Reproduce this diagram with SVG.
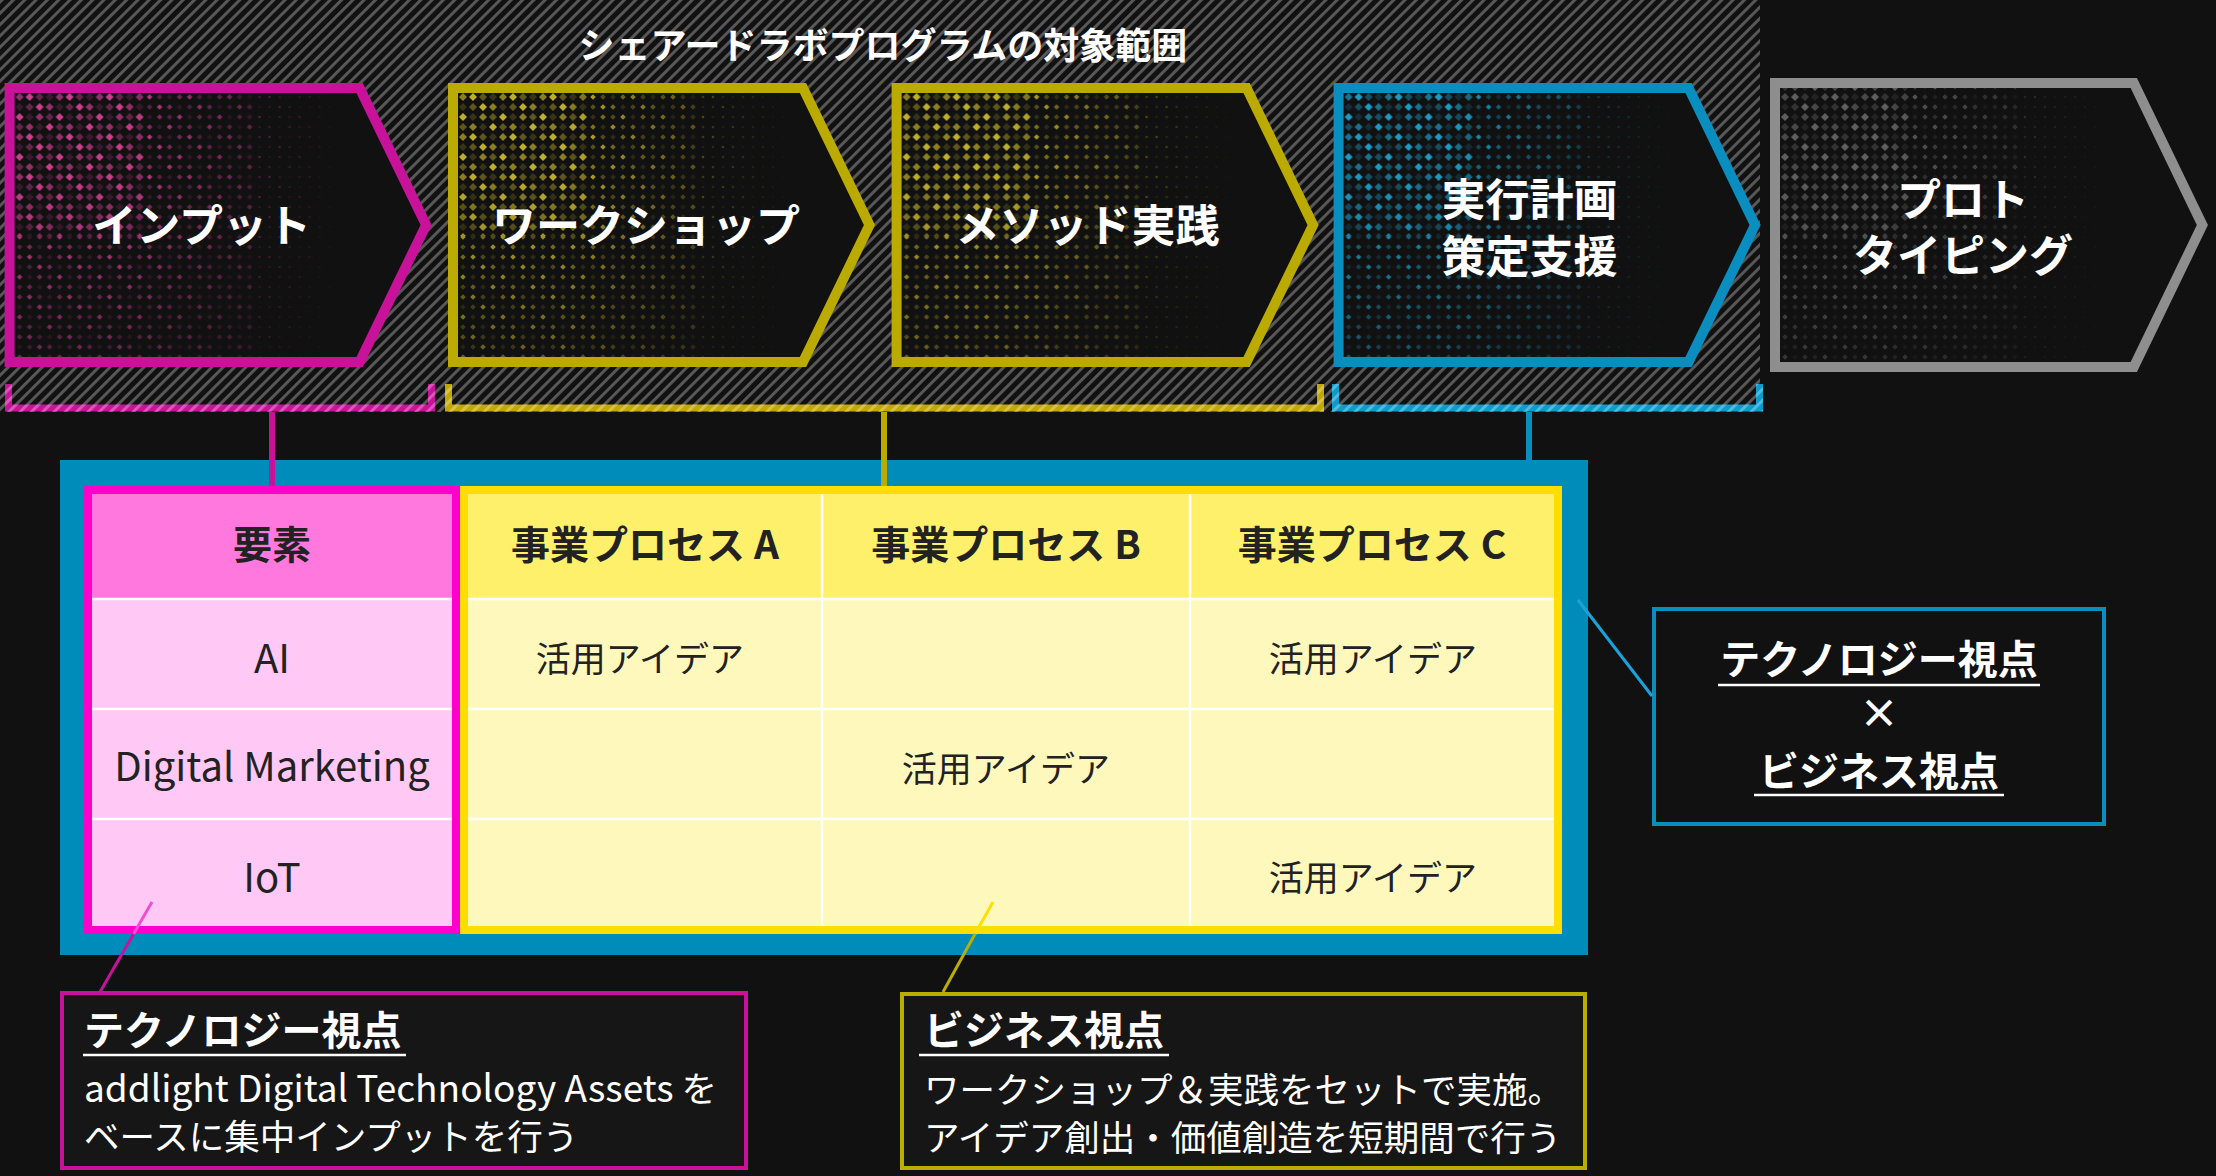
<svg xmlns="http://www.w3.org/2000/svg" width="2216" height="1176" viewBox="0 0 2216 1176">
<style>
text{font-family:"Noto Sans CJK JP","Noto Sans",sans-serif}
.title{fill:#fff;font-size:36px;font-weight:700;text-anchor:middle}
.ct{fill:#fff;font-size:44px;font-weight:700;text-anchor:middle}
.chev{fill:#111;stroke-width:10;stroke-linejoin:miter}
.hd{font-size:39px;font-weight:700;fill:#222;text-anchor:middle}
.cell{font-size:35px;fill:#222;text-anchor:middle}
.lat{font-size:40px;fill:#222;text-anchor:middle}
.clh{font-size:40px;font-weight:700;fill:#fff}
.clb{font-size:35.5px;fill:#fff}
.ul{stroke:#fff;stroke-width:2.5;fill:none}
.grid{stroke:#fff;stroke-width:2.5;fill:none}
.br{fill:none;stroke-width:7}
.brh{fill:none;stroke-width:7;stroke:url(#hatch)}
</style>
<defs>
<pattern id="hatch" width="8" height="8" patternUnits="userSpaceOnUse" patternTransform="rotate(45)">
<rect width="2.9" height="8" fill="#fff" fill-opacity="0.3"/>
</pattern>
<pattern id="pL" width="40" height="40" y="2" patternUnits="userSpaceOnUse">
<path fill="#fff" d="M5 1l4 4-4 4-4-4zM25 11l4 4-4 4-4-4zM35 21l4 4-4 4-4-4zM15 31l4 4-4 4-4-4z"/>
<path fill="#fff" fill-opacity="0.7" d="M25 1l4 4-4 4-4-4zM15 11l4 4-4 4-4-4zM5 21l4 4-4 4-4-4zM35 31l4 4-4 4-4-4z"/>
<path fill="#fff" fill-opacity="0.45" d="M15 1l4 4-4 4-4-4zM35 11l4 4-4 4-4-4zM25 21l4 4-4 4-4-4zM5 31l4 4-4 4-4-4z"/>
<path fill="#fff" fill-opacity="0.22" d="M35 1l4 4-4 4-4-4zM5 11l4 4-4 4-4-4zM15 21l4 4-4 4-4-4zM25 31l4 4-4 4-4-4z"/>
</pattern>
<pattern id="pM" width="40" height="40" y="2" patternUnits="userSpaceOnUse">
<path fill="#fff" d="M5 2.2l2.8 2.8-2.8 2.8-2.8-2.8zM25 12.2l2.8 2.8-2.8 2.8-2.8-2.8zM35 22.2l2.8 2.8-2.8 2.8-2.8-2.8zM15 32.2l2.8 2.8-2.8 2.8-2.8-2.8z"/>
<path fill="#fff" fill-opacity="0.7" d="M25 2.2l2.8 2.8-2.8 2.8-2.8-2.8zM15 12.2l2.8 2.8-2.8 2.8-2.8-2.8zM5 22.2l2.8 2.8-2.8 2.8-2.8-2.8zM35 32.2l2.8 2.8-2.8 2.8-2.8-2.8z"/>
<path fill="#fff" fill-opacity="0.45" d="M15 2.2l2.8 2.8-2.8 2.8-2.8-2.8zM35 12.2l2.8 2.8-2.8 2.8-2.8-2.8zM25 22.2l2.8 2.8-2.8 2.8-2.8-2.8zM5 32.2l2.8 2.8-2.8 2.8-2.8-2.8z"/>
<path fill="#fff" fill-opacity="0.22" d="M35 2.2l2.8 2.8-2.8 2.8-2.8-2.8zM5 12.2l2.8 2.8-2.8 2.8-2.8-2.8zM15 22.2l2.8 2.8-2.8 2.8-2.8-2.8zM25 32.2l2.8 2.8-2.8 2.8-2.8-2.8z"/>
</pattern>
<pattern id="pS" width="40" height="40" y="2" patternUnits="userSpaceOnUse">
<path fill="#fff" d="M5 3.4l1.6 1.6-1.6 1.6-1.6-1.6zM25 13.4l1.6 1.6-1.6 1.6-1.6-1.6zM35 23.4l1.6 1.6-1.6 1.6-1.6-1.6zM15 33.4l1.6 1.6-1.6 1.6-1.6-1.6z"/>
<path fill="#fff" fill-opacity="0.75" d="M25 3.4l1.6 1.6-1.6 1.6-1.6-1.6zM15 13.4l1.6 1.6-1.6 1.6-1.6-1.6zM5 23.4l1.6 1.6-1.6 1.6-1.6-1.6zM35 33.4l1.6 1.6-1.6 1.6-1.6-1.6z"/>
<path fill="#fff" fill-opacity="0.5" d="M15 3.4l1.6 1.6-1.6 1.6-1.6-1.6zM35 13.4l1.6 1.6-1.6 1.6-1.6-1.6zM25 23.4l1.6 1.6-1.6 1.6-1.6-1.6zM5 33.4l1.6 1.6-1.6 1.6-1.6-1.6z"/>
<path fill="#fff" fill-opacity="0.3" d="M35 3.4l1.6 1.6-1.6 1.6-1.6-1.6zM5 13.4l1.6 1.6-1.6 1.6-1.6-1.6zM15 23.4l1.6 1.6-1.6 1.6-1.6-1.6zM25 33.4l1.6 1.6-1.6 1.6-1.6-1.6z"/>
</pattern>
<linearGradient id="gH" x1="0" y1="0" x2="1" y2="0">
<stop offset="0.3" stop-color="#000" stop-opacity="0"/>
<stop offset="0.95" stop-color="#000" stop-opacity="1"/>
</linearGradient>
<linearGradient id="gV" x1="0" y1="0" x2="0" y2="1">
<stop offset="0.3" stop-color="#000" stop-opacity="0"/>
<stop offset="1" stop-color="#000" stop-opacity="0.55"/>
</linearGradient>
<mask id="mDots" maskUnits="userSpaceOnUse" x="0" y="80" width="380" height="300">
<rect x="8" y="86" width="132" height="150" fill="url(#pL)"/>
<rect x="8" y="236" width="132" height="134" fill="url(#pM)"/>
<rect x="140" y="86" width="110" height="284" fill="url(#pM)"/>
<rect x="250" y="86" width="110" height="284" fill="url(#pS)"/>
<rect x="8" y="86" width="352" height="284" fill="url(#gH)"/>
<rect x="8" y="86" width="352" height="284" fill="url(#gV)"/>
</mask>
</defs>

<rect width="2216" height="1176" fill="#111"/>
<rect x="0" y="0" width="1760" height="412" fill="url(#hatch)"/>

<g id="title">
<text class="title" x="883" y="59">シェアードラボプログラムの対象範囲</text>
</g>

<g id="step-input" transform="translate(4.6 0)">
<polygon class="chev" stroke="#c8129a" points="5,88 355,88 421.5,225 355,362 5,362"/>
<rect x="10" y="93" width="345" height="264" fill="#cc3d8e" mask="url(#mDots)"/>
<text class="ct" x="197" y="242">インプット</text>
</g>
<g id="step-workshop" transform="translate(448 0)">
<polygon class="chev" stroke="#bbab00" points="5,88 355,88 421.5,225 355,362 5,362"/>
<rect x="10" y="93" width="345" height="264" fill="#bfae2a" mask="url(#mDots)"/>
<text class="ct" x="198" y="242">ワークショップ</text>
</g>
<g id="step-method" transform="translate(891.6 0)">
<polygon class="chev" stroke="#bbab00" points="5,88 355,88 421.5,225 355,362 5,362"/>
<rect x="10" y="93" width="345" height="264" fill="#bfae2a" mask="url(#mDots)"/>
<text class="ct" x="196" y="242">メソッド実践</text>
</g>
<g id="step-plan" transform="translate(1333.6 0)">
<polygon class="chev" stroke="#0a8ec0" points="5,88 355,88 421.5,225 355,362 5,362"/>
<rect x="10" y="93" width="345" height="264" fill="#1c9bc4" mask="url(#mDots)"/>
<text class="ct" font-size="48"><tspan x="196" y="216">実行計画</tspan><tspan x="196" y="273">策定支援</tspan></text>
</g>
<g id="step-prototyping" transform="translate(1770 0)">
<polygon class="chev" stroke="#8e8e8e" points="5,83 363.8,83 432.4,225 363.8,367 5,367"/>
<rect x="10" y="88" width="350" height="274" fill="#5e5e5e" mask="url(#mDots)"/>
<text class="ct" font-size="46"><tspan x="193" y="216">プロト</tspan><tspan x="193" y="272">タイピング</tspan></text>
</g>

<g id="matrix">
<rect x="60" y="460" width="1528" height="495" fill="#008cbb"/>
<g id="elements-column">
<rect x="88" y="490" width="368" height="440" fill="#ffc8f5" stroke="#ff00cc" stroke-width="8"/>
<rect x="92" y="494" width="360" height="105" fill="#ff78de"/>
<path class="grid" d="M92 599H452M92 709H452M92 819H452"/>
<text class="hd" x="272" y="559">要素</text>
<text class="lat" x="272" y="673">AI</text>
<text class="lat" x="272" y="781">Digital Marketing</text>
<text class="lat" x="272" y="892">IoT</text>
</g>
<g id="process-table">
<rect x="464" y="490" width="1094" height="440" fill="#fff8bc" stroke="#ffdd00" stroke-width="8"/>
<rect x="468" y="494" width="1086" height="105" fill="#fff06b"/>
<path class="grid" d="M468 599H1554M468 709H1554M468 819H1554M822 494V926M1190 494V926"/>
<text class="hd" x="645" y="559">事業プロセス A</text>
<text class="hd" x="1006" y="559">事業プロセス B</text>
<text class="hd" x="1372" y="559">事業プロセス C</text>
<text class="cell" x="640" y="672">活用アイデア</text>
<text class="cell" x="1373" y="672">活用アイデア</text>
<text class="cell" x="1006" y="782">活用アイデア</text>
<text class="cell" x="1373" y="891">活用アイデア</text>
</g>
</g>

<g id="callout-tech-biz">
<rect x="1654" y="609" width="450" height="215" fill="#111" stroke="#0a8ec0" stroke-width="4"/>
<text class="clh" x="1879" y="674" text-anchor="middle">テクノロジー視点</text>
<path class="ul" d="M1718 685H2040"/>
<text class="clh" x="1879" y="728" text-anchor="middle" font-weight="400" font-size="44">×</text>
<text class="clh" x="1879" y="786" text-anchor="middle">ビジネス視点</text>
<path class="ul" d="M1754 795H2004"/>
</g>

<g id="callout-tech">
<rect x="62" y="993" width="684" height="175" fill="#161616" stroke="#c8129a" stroke-width="4"/>
<text class="clh" x="84" y="1045">テクノロジー視点</text>
<path class="ul" d="M83 1055H406"/>
<text class="clb" x="84" y="1102"><tspan font-size="37">addlight Digital Technology Assets</tspan> を</text>
<text class="clb" x="84" y="1150">ベースに集中インプットを行う</text>
</g>

<g id="callout-biz">
<rect x="902" y="994" width="683" height="174" fill="#161616" stroke="#bcae00" stroke-width="4"/>
<text class="clh" x="924" y="1045">ビジネス視点</text>
<path class="ul" d="M919 1055H1169"/>
<text class="clb" x="924" y="1103">ワークショップ＆実践をセットで実施。</text>
<text class="clb" x="924" y="1151">アイデア創出・価値創造を短期間で行う</text>
</g>

<g id="connectors">
<path class="br" stroke="#c8129a" d="M8.5 384V408H431.5V384"/>
<path class="brh" d="M8.5 384V408H431.5V384"/>
<path class="br" stroke="#c4a800" d="M448.5 384V408H1320.5V384"/>
<path class="brh" d="M448.5 384V408H1320.5V384"/>
<path class="br" stroke="#0a9ccc" d="M1335.5 384V408H1759.5V384"/>
<path class="brh" d="M1335.5 384V408H1759.5V384"/>
<path d="M272 412V486" stroke="#c8129a" stroke-width="6"/>
<path d="M884 412V486" stroke="#bbab00" stroke-width="6"/>
<path d="M1529 412V460" stroke="#0a8ec0" stroke-width="6"/>
<path d="M152 902L133.5 934" stroke="#f050d0" stroke-width="3"/>
<path d="M133.5 934L100 992" stroke="#c8129a" stroke-width="3"/>
<path d="M993 902L975 934" stroke="#ffe000" stroke-width="3"/>
<path d="M975 934L943 992" stroke="#bcae00" stroke-width="3"/>
<path d="M1578 600L1652 696" stroke="#1aa3da" stroke-width="3"/>
</g>
</svg>
